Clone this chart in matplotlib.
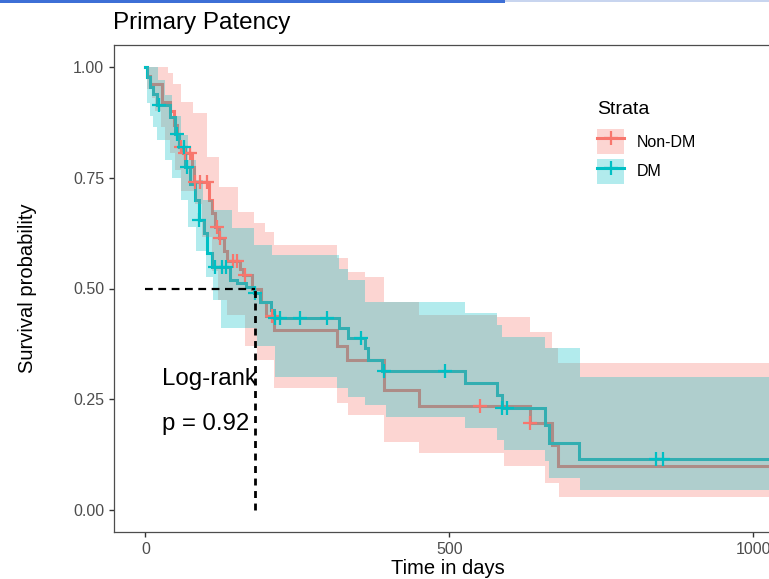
import numpy as np
import matplotlib
matplotlib.use("Agg")
import matplotlib.pyplot as plt
from matplotlib.patches import Patch, Rectangle
from matplotlib.lines import Line2D
from matplotlib.legend_handler import HandlerTuple

plt.rcParams['font.family'] = ['Liberation Sans', 'DejaVu Sans']

# Kaplan-Meier estimates (days, survival)
t_end = 1030

nd_t = [0, 3, 8, 27, 41, 47, 52, 56, 62, 76, 80, 104, 110, 115, 121, 130, 134, 155, 160,
        175, 190, 199, 211, 315, 332, 392, 450, 632, 669, 678]
nd_s = [1.0, 0.98, 0.963, 0.922, 0.90, 0.87, 0.845, 0.82, 0.805, 0.775, 0.741, 0.70, 0.67,
        0.64, 0.613, 0.585, 0.563, 0.545, 0.53, 0.50, 0.47, 0.437, 0.406, 0.369, 0.339,
        0.271, 0.235, 0.197, 0.147, 0.099]
nd_cens = [58, 66, 74, 82, 90, 101, 118, 123, 145, 150, 164, 208, 551, 632]
nd_up_t = [0, 38, 46, 58, 79, 101, 121, 153, 178, 197, 211, 315, 334, 362, 392, 450, 578,
           632, 669, 678]
nd_up = [1.0, 0.986, 0.963, 0.922, 0.896, 0.797, 0.73, 0.673, 0.647, 0.628, 0.598, 0.568,
         0.538, 0.527, 0.47, 0.44, 0.436, 0.402, 0.365, 0.331]
nd_lo_t = [0, 3, 11, 16, 25, 33, 41, 49, 58, 82, 93, 110, 120, 134, 164, 184, 211, 315, 334,
           392, 450, 589, 658, 680]
nd_lo = [1.0, 0.95, 0.93, 0.90, 0.865, 0.835, 0.806, 0.767, 0.72, 0.69, 0.616, 0.54, 0.474,
         0.44, 0.369, 0.339, 0.275, 0.241, 0.214, 0.154, 0.128, 0.098, 0.06, 0.03]

dm_t = [0, 2, 7, 13, 20, 40, 49, 55, 66, 74, 82, 88, 96, 101, 109, 140, 151, 166, 178, 189,
        206, 211, 318, 334, 362, 367, 389, 526, 578, 587, 658, 663, 713]
dm_s = [1.0, 0.978, 0.955, 0.94, 0.914, 0.888, 0.85, 0.82, 0.775, 0.737, 0.70, 0.655, 0.625,
        0.58, 0.549, 0.52, 0.512, 0.503, 0.489, 0.470, 0.451, 0.433, 0.410, 0.388, 0.365,
        0.339, 0.314, 0.286, 0.260, 0.230, 0.192, 0.151, 0.114]
dm_cens = [22, 52, 63, 69, 88, 115, 126, 132, 181, 214, 222, 255, 299, 355, 392, 492, 587,
           594, 839, 851]
dm_up_t = [0, 21, 33, 44, 58, 71, 84, 95, 112, 143, 178, 209, 318, 334, 362, 526, 579, 587,
           658, 714]
dm_up = [1.0, 0.97, 0.937, 0.89, 0.846, 0.79, 0.745, 0.70, 0.677, 0.637, 0.598, 0.576, 0.545,
         0.52, 0.47, 0.445, 0.418, 0.391, 0.365, 0.30]
dm_lo_t = [0, 2, 7, 13, 20, 33, 44, 58, 71, 84, 99, 112, 125, 184, 214, 315, 334, 362, 395,
           526, 579, 589, 658, 663, 715]
dm_lo = [1.0, 0.92, 0.89, 0.865, 0.835, 0.79, 0.75, 0.70, 0.64, 0.585, 0.525, 0.475, 0.41,
         0.37, 0.30, 0.275, 0.256, 0.237, 0.21, 0.184, 0.158, 0.135, 0.11, 0.072, 0.045]

median_time = 180
pval_text = "p = 0.92"
strata = ["Non-DM", "DM"]

red = '#F8766D'
teal = '#00BFC4'


def stair(t, v, tend):
    x = np.append(np.repeat(t, 2)[1:], tend)
    y = np.repeat(v, 2)
    return x, y


def at(t, v, when):
    idx = np.searchsorted(t, when, side='right') - 1
    return np.asarray(v)[idx]


W, H = 769, 579
fig = plt.figure(figsize=(W / 100, H / 100), dpi=100)
ax = fig.add_axes([114 / W, 1 - 532 / H, 689 / W, 487 / H])

groups = [
    (nd_t, nd_s, nd_cens, nd_up_t, nd_up, nd_lo_t, nd_lo, red),
    (dm_t, dm_s, dm_cens, dm_up_t, dm_up, dm_lo_t, dm_lo, teal),
]
for t, s, c, ut, u, lt, lo, col in groups:
    x, y = stair(t, s, t_end)
    ax.plot(x, y, color=col, lw=2.2, zorder=2, solid_joinstyle='miter')
for t, s, c, ut, u, lt, lo, col in groups:
    ux, uy = stair(ut, u, t_end)
    lx, ly = stair(lt, lo, t_end)
    ax.fill(np.concatenate([ux, lx[::-1]]), np.concatenate([uy, ly[::-1]]),
            color=col, alpha=0.3, lw=0, zorder=3)
for t, s, c, ut, u, lt, lo, col in groups:
    ax.plot(c, at(t, s, c), ls='none', marker='+', ms=10, mew=1.6, color=col, zorder=4)

# median lines
ax.plot([0, median_time], [0.5, 0.5], color='black', lw=1.6, ls=(0, (3.5, 2.5)), zorder=5)
ax.plot([median_time, median_time], [0, 0.5], color='black', lw=2.0, ls=(0, (2.5, 2)), zorder=5)

ax.text(28, 0.281, "Log-rank", fontsize=17.3, color='black', va='baseline', zorder=6)
ax.text(28, 0.181, pval_text, fontsize=17.3, color='black', va='baseline', zorder=6)

ax.set_xlim(-51.5, 1081.5)
ax.set_ylim(-0.05, 1.05)
ax.set_xticks([0, 500, 1000])
ax.set_yticks([0, 0.25, 0.5, 0.75, 1.0])
ax.set_yticklabels(['0.00', '0.25', '0.50', '0.75', '1.00'])
ax.tick_params(labelsize=11.5, labelcolor='#4D4D4D', color='#333333', length=3.5, width=1)
for sp in ax.spines.values():
    sp.set_color('#4D4D4D')
    sp.set_linewidth(0.9)

fig.text(113 / W, 1 - 29 / H, "Primary Patency", fontsize=17.5, va='baseline', ha='left')
fig.text(448 / W, 1 - 574 / H, "Time in days", fontsize=14.5, va='baseline', ha='center')
fig.text(28 / W, 1 - 288 / H, "Survival probability", fontsize=14.5, rotation=90,
         va='center', ha='center')

# legend
fig.text(597 / W, 1 - 114 / H, "Strata", fontsize=14, va='baseline', ha='left')
handles = [(Patch(facecolor=red, alpha=0.3, lw=0),
            Line2D([], [], color=red, lw=2.2, marker='+', ms=10, mew=1.6)),
           (Patch(facecolor=teal, alpha=0.3, lw=0),
            Line2D([], [], color=teal, lw=2.2, marker='+', ms=10, mew=1.6))]
leg = fig.legend(handles, strata, handler_map={tuple: HandlerTuple(ndivide=1)},
                 loc='upper left', bbox_to_anchor=(583 / W, 1 - 115 / H), frameon=False,
                 fontsize=11.5, handlelength=1.65, handleheight=2.0, labelspacing=0.3,
                 handletextpad=0.8, numpoints=1)

# screenshot strip at the very top
fig.patches.append(Rectangle((0, 1 - 3 / H), 505 / W, 3 / H, transform=fig.transFigure,
                             color='#3D6FD6', lw=0))
fig.patches.append(Rectangle((505 / W, 1 - 2 / H), 264 / W, 2 / H, transform=fig.transFigure,
                             color='#C8D5EF', lw=0))

fig.savefig("out.png", dpi=100)
